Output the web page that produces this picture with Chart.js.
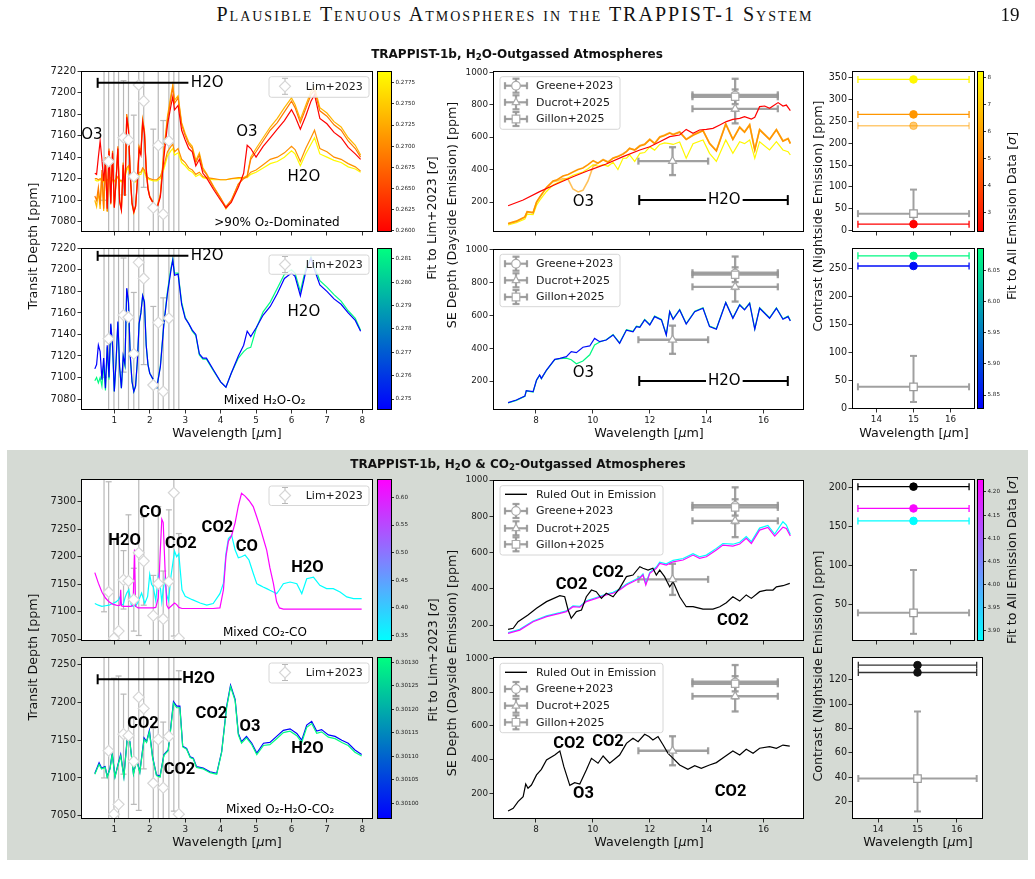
<!DOCTYPE html>
<html><head><meta charset="utf-8"><title>TRAPPIST-1b atmospheres</title>
<script src="https://cdn.jsdelivr.net/npm/chart.js@4.4.1/dist/chart.umd.min.js"></script>
<style>
html,body{margin:0;padding:0;background:#fff;}
#page{position:relative;width:1035px;height:879px;overflow:hidden;background:#fff;font-family:'DejaVu Sans',sans-serif;color:#111;}
#page canvas{position:absolute;}
.lb{position:absolute;white-space:nowrap;line-height:1;transform:translate(-50%,-50%);}
.lb.r{transform:translate(-50%,-50%) rotate(-90deg);}
.sb{font-size:72%;vertical-align:-0.28em;}
</style></head><body><div id="page"><div style="position:absolute;left:7px;top:450px;width:1021px;height:410px;background:#d5dad4;"></div></div>
<script>
// ===================== DATA =====================
const XT_T=[1,2,3,4,5,6,7,8];
const XT_E=[8,10,12,14,16];
const XT_N=[14,15,16];
const YT_T1=[7080,7100,7120,7140,7160,7180,7200,7220];
const YT_T2=[7050,7100,7150,7200,7250,7300];
const YT_T3=[7050,7100,7150,7200,7250];
const YT_E=[200,400,600,800,1000];
const YT_N1=[0,50,100,150,200,250,300,350];
const YT_N2=[0,50,100,150,200,250];
const YT_N3=[50,100,150,200];
const YT_N4=[20,40,60,80,100,120];

// Lim+2023 transit spectrum
const LIM_WL=[0.71,0.84,0.99,1.12,1.26,1.40,1.55,1.69,1.83,2.10,2.24,2.38,2.54,2.68,2.82];
const LIM_VAL=[7350,7136,7052,7065,7158,7156,7122,7207,7192,7093,7151,7087,7155,7316,7052];
const LIM_ERR=[250,200,180,170,53,120,57,150,80,73,140,87,130,260,190];

// dayside emission data
const GREENE_WL=[15], GREENE_VAL=[861], GREENE_ERR=[99], GREENE_XLO=[13.5], GREENE_XHI=[16.5];
const DUCROT_WL=[12.8,15], DUCROT_VAL=[452,775], DUCROT_ERR=[86,90], DUCROT_XLO=[11.6,13.5], DUCROT_XHI=[14.05,16.5];
const GILLON_WL=[15], GILLON_VAL=[849], GILLON_ERR=[45], GILLON_XLO=[13.5], GILLON_XHI=[16.5];
// nightside contrast data
const NIGHT_WL=[15], NIGHT_VAL=[39], NIGHT_LO=[27], NIGHT_HI=[55], NIGHT_XLO=[13.5], NIGHT_XHI=[16.5];

// transit models, O2-dominated (panel 1)
const W_T1=[0.45,0.5,0.55,0.6,0.65,0.7,0.75,0.8,0.85,0.9,
 0.95,1.0,1.05,1.1,1.15,1.2,1.25,1.3,1.35,1.4,
 1.45,1.5,1.55,1.6,1.65,1.7,1.75,1.8,1.85,1.9,
 1.95,2.0,2.1,2.2,2.3,2.4,2.5,2.6,2.65,2.7,
 2.8,2.9,3.0,3.1,3.2,3.3,3.4,3.5,3.6,3.8,
 4.0,4.15,4.3,4.5,4.65,4.75,4.85,5.0,5.2,5.4,
 5.6,5.8,6.0,6.1,6.25,6.4,6.55,6.65,6.8,7.0,
 7.2,7.4,7.6,7.8,7.95];
const P1_ORANGE=[7104,7100,7112,7096,7128,7092,7140,7090,7148,7098,
 7146,7094,7120,7150,7100,7092,7135,7105,7180,7168,
 7125,7098,7090,7095,7118,7150,7145,7175,7165,7130,
 7112,7104,7098,7093,7105,7145,7175,7195,7205,7190,
 7195,7170,7160,7152,7148,7135,7142,7128,7124,7112,
 7102,7094,7100,7115,7120,7122,7138,7145,7155,7165,
 7172,7182,7192,7186,7172,7185,7198,7202,7183,7178,
 7170,7165,7155,7148,7140];
const P1_RED=[7125,7124,7140,7155,7138,7118,7136,7092,7146,7097,
 7144,7093,7118,7148,7099,7091,7133,7104,7177,7165,
 7123,7097,7089,7094,7116,7147,7142,7172,7162,7128,
 7110,7103,7097,7092,7103,7140,7170,7188,7196,7184,
 7188,7165,7156,7148,7145,7132,7138,7125,7121,7110,
 7100,7093,7098,7112,7125,7151,7148,7140,7150,7158,
 7166,7174,7184,7178,7166,7178,7192,7198,7176,7171,
 7163,7158,7149,7143,7138];
const P1_LIGHT=[7100,7094,7108,7092,7124,7090,7136,7089,7145,7096,
 7143,7093,7118,7147,7098,7091,7132,7104,7178,7166,
 7122,7096,7088,7094,7117,7149,7144,7174,7164,7129,
 7111,7103,7097,7092,7106,7147,7178,7198,7207,7193,
 7197,7172,7162,7154,7150,7137,7144,7130,7125,7113,
 7102,7092,7099,7115,7121,7123,7140,7148,7158,7168,
 7176,7186,7195,7189,7175,7188,7201,7205,7186,7181,
 7173,7168,7158,7151,7142];
const P1_FLAT_O=[7120,7120,7119,7120,7119,7118,7120,7119,7120,7121,
 7119,7118,7120,7122,7119,7118,7120,7123,7130,7132,
 7125,7120,7118,7118,7120,7126,7126,7130,7128,7123,
 7121,7120,7119,7119,7122,7132,7145,7150,7152,7145,
 7148,7138,7135,7130,7128,7124,7126,7122,7121,7120,
 7119,7119,7120,7121,7121,7122,7126,7128,7133,7138,
 7140,7144,7150,7147,7136,7148,7158,7165,7148,7145,
 7140,7138,7134,7131,7127];
const P1_FLAT_Y=[7119,7118,7118,7119,7118,7117,7119,7118,7119,7120,
 7118,7117,7119,7121,7118,7117,7119,7121,7128,7130,
 7123,7119,7117,7117,7119,7124,7124,7128,7126,7121,
 7120,7119,7118,7118,7120,7129,7141,7146,7148,7142,
 7144,7135,7132,7128,7126,7122,7124,7121,7120,7119,
 7119,7119,7120,7120,7121,7121,7124,7126,7130,7134,
 7136,7140,7146,7143,7132,7143,7152,7158,7143,7140,
 7137,7135,7131,7129,7126];
const FIT_P1=[0.2600,0.2690,0.2735,0.2705,0.2785]; // red, orange, light, flat orange, flat yellow

// transit models, mixed H2O-O2 (panel 2)
const P2_BLUE=[7108,7112,7130,7124,7098,7118,7090,7130,7100,7150,
 7130,7087,7115,7152,7110,7090,7120,7112,7183,7170,
 7120,7096,7087,7092,7115,7150,7160,7176,7170,7130,
 7112,7104,7098,7091,7110,7150,7178,7200,7209,7195,
 7196,7168,7155,7150,7144,7140,7122,7118,7118,7107,
 7096,7091,7104,7120,7130,7143,7138,7146,7158,7166,
 7178,7192,7197,7194,7176,7198,7211,7200,7186,7180,
 7173,7168,7160,7153,7143];
const P2_GREEN=[7097,7100,7095,7100,7092,7112,7088,7128,7098,7149,
 7128,7087,7114,7151,7109,7090,7119,7111,7182,7169,
 7120,7096,7087,7092,7115,7150,7160,7176,7170,7130,
 7112,7104,7098,7091,7111,7151,7180,7202,7210,7197,
 7197,7170,7156,7150,7143,7139,7121,7117,7117,7106,
 7096,7091,7104,7118,7124,7127,7128,7145,7161,7170,
 7183,7196,7200,7197,7180,7201,7212,7203,7190,7184,
 7177,7171,7162,7155,7144];
const FIT_P2=[0.2745,0.2814]; // blue, green

// transit models, mixed CO2-CO (panel 7)
const W_T7=[0.45,0.55,0.65,0.75,0.85,0.95,1.05,1.12,1.16,1.18,
 1.2,1.25,1.3,1.35,1.41,1.48,1.53,1.57,1.6,1.67,
 1.77,1.86,1.94,2.0,2.05,2.1,2.17,2.24,2.29,2.34,
 2.38,2.43,2.48,2.53,2.6,2.7,2.76,2.82,2.91,3.0,
 3.2,3.42,3.61,3.79,3.98,4.08,4.15,4.22,4.31,4.41,
 4.5,4.59,4.69,4.8,4.92,5.02,5.11,5.2,5.3,5.39,
 5.49,5.58,5.66,5.77,5.96,6.15,6.29,6.43,6.62,6.8,
 6.99,7.18,7.37,7.56,7.75,7.98];
const P7_MAG=[7171,7152,7136,7125,7118,7114,7112,7111,7112,7140,
 7111,7110,7110,7110,7110,7110,7112,7213,7110,7107,
 7107,7107,7107,7107,7107,7107,7108,7125,7200,7268,
 7262,7180,7112,7106,7110,7116,7113,7108,7106,7106,
 7106,7106,7106,7106,7107,7140,7200,7228,7238,7262,
 7292,7315,7310,7302,7291,7272,7254,7234,7212,7180,
 7151,7118,7107,7105,7105,7105,7105,7105,7105,7105,
 7105,7105,7105,7105,7105,7105];
const P7_CYAN=[7115,7112,7110,7111,7112,7115,7118,7122,7127,7118,
 7113,7113,7125,7134,7140,7112,7110,7112,7110,7118,
 7134,7115,7128,7168,7150,7145,7120,7165,7150,7118,
 7140,7160,7130,7120,7165,7210,7200,7205,7140,7128,
 7122,7116,7112,7115,7133,7152,7205,7233,7239,7212,
 7198,7200,7203,7194,7170,7151,7148,7145,7142,7139,
 7136,7133,7140,7151,7154,7151,7133,7160,7163,7148,
 7142,7142,7136,7127,7124,7124];
const FIT_P7=[0.6300,0.3400]; // magenta, cyan

// transit models, mixed O2-H2O-CO2 (panel 8)
const W_T8=[0.45,0.57,0.64,0.74,0.80,0.88,0.94,1.02,1.11,1.18,
 1.27,1.37,1.44,1.54,1.63,1.72,1.84,1.91,1.99,2.08,
 2.19,2.29,2.40,2.52,2.59,2.67,2.76,2.85,2.93,3.04,
 3.14,3.23,3.32,3.51,3.70,3.89,4.03,4.17,4.28,4.41,
 4.50,4.59,4.73,4.88,5.02,5.21,5.39,5.58,5.77,5.96,
 6.15,6.29,6.43,6.57,6.71,6.85,7.04,7.23,7.42,7.60,
 7.79,7.98];
const P8_BLUE=[7106,7120,7113,7115,7102,7113,7133,7102,7119,7131,
 7102,7156,7148,7106,7124,7108,7153,7148,7163,7128,
 7104,7102,7131,7137,7166,7201,7195,7195,7142,7139,
 7128,7126,7115,7113,7108,7106,7135,7195,7223,7204,
 7159,7148,7155,7146,7133,7146,7147,7155,7163,7165,
 7159,7150,7170,7175,7162,7164,7157,7155,7150,7146,
 7137,7131];
const P8_GREEN=[7105,7118,7112,7114,7101,7112,7131,7101,7118,7129,
 7101,7154,7147,7105,7123,7107,7151,7147,7161,7127,
 7103,7101,7130,7136,7164,7199,7193,7193,7141,7138,
 7127,7125,7114,7112,7107,7105,7134,7193,7221,7202,
 7157,7146,7153,7144,7131,7143,7144,7152,7160,7162,
 7156,7147,7167,7172,7159,7161,7154,7152,7147,7143,
 7134,7129];
const FIT_P8=[0.30097,0.30131]; // blue, green

// emission models, O2-dominated (panel 3)
const W_E1R=[7.02,7.55,8.13,8.72,9.30,9.89,10.47,11.06,11.65,12.00,12.35,12.70,13.05,13.28,13.52,13.75,13.99,14.22,14.46,14.69,14.92,15.16,15.33,15.57,15.69,15.86,16.04,16.21,16.33,16.51,16.68,16.80,16.94];
const P3_RED=[177,212,264,311,356,397,434,480,521,541,572,603,613,648,624,644,648,654,675,696,710,716,726,712,722,788,792,778,792,813,792,798,764];
const W_E1=[7.02,7.31,7.61,7.69,7.90,8.02,8.13,8.37,8.60,8.72,
 8.95,9.13,9.30,9.48,9.65,9.83,10.01,10.18,10.36,10.53,
 10.71,10.88,11.06,11.18,11.29,11.47,11.65,11.82,12.00,12.17,
 12.35,12.52,12.70,12.82,13.05,13.28,13.52,13.87,14.10,14.34,
 14.67,14.92,15.16,15.33,15.51,15.69,15.86,16.21,16.45,16.68,
 16.86,16.94];
const P3_ORANGE=[68,82,108,140,135,200,230,290,330,335,
 360,370,385,400,410,430,455,440,460,445,
 470,480,495,510,530,520,545,555,585,560,
 600,610,625,615,630,585,612,640,560,515,
 680,585,660,630,675,520,645,585,645,575,
 590,560];
const P3_ORANGE2=[66,80,106,138,133,198,228,288,325,330,
 345,340,280,262,272,330,420,440,462,448,
 472,482,498,512,532,522,548,558,588,563,
 603,613,628,618,633,588,615,643,563,518,
 683,588,663,633,678,523,648,588,648,578,
 593,563];
const P3_YELLOW=[58,72,95,125,122,180,210,265,305,315,
 335,350,365,375,385,405,430,420,430,420,
 445,400,470,470,490,450,500,505,540,520,
 555,565,560,555,570,470,560,583,500,450,
 583,500,572,560,583,470,572,521,572,521,
 510,490];
const FIT_E1=[2.3,5.8,6.0,8.1]; // red, orange, orange2, yellow

// emission models, mixed H2O-O2 (panel 4)
const W_E2=[7.02,7.31,7.61,7.66,7.90,8.02,8.13,8.19,8.37,8.66,
 8.84,9.07,9.24,9.42,9.65,9.89,10.06,10.24,10.47,10.71,
 10.94,11.18,11.41,11.53,11.65,11.82,12.00,12.17,12.41,12.58,
 12.70,12.82,13.05,13.28,13.58,13.87,14.10,14.34,14.67,14.92,
 15.16,15.33,15.51,15.69,15.86,16.21,16.45,16.68,16.86,16.94];
const P4_BLUE=[68,84,108,141,135,206,237,216,267,332,
 338,349,379,373,406,414,460,440,450,481,
 430,511,501,532,528,573,542,593,573,481,
 623,577,634,548,623,644,532,516,678,583,
 664,634,674,516,644,583,644,577,593,566];
const P4_GREEN=[66,82,106,139,133,204,235,214,265,330,
 336,340,330,305,322,360,420,438,452,484,
 433,514,504,535,531,576,545,596,576,484,
 626,580,637,551,626,647,535,519,681,586,
 667,637,677,519,647,586,647,580,596,569];
const FIT_E2=[5.84,6.08]; // blue, green

// emission models, CO2-CO (panel 9)
const W_E3=[7.02,7.20,7.37,7.72,8.02,8.37,8.84,9.01,9.13,9.24,
 9.42,9.60,9.77,9.95,10.12,10.30,10.47,10.71,10.94,11.18,
 11.41,11.65,11.76,11.94,12.11,12.23,12.35,12.52,12.70,12.82,
 13.05,13.28,13.52,13.87,14.22,14.46,14.69,14.92,15.16,15.39,
 15.57,15.86,16.10,16.33,16.45,16.68,16.92];
const P9_BLACK=[176,182,218,255,292,329,362,356,283,237,
 274,283,356,393,384,347,375,356,402,467,
 476,522,513,503,513,476,503,467,411,439,
 356,301,301,288,288,301,323,356,332,366,
 347,384,393,393,411,417,430];
const W_E4=[7.02,7.43,7.90,8.37,8.84,9.07,9.30,9.54,9.77,10.12,
 10.47,10.71,10.94,11.18,11.41,11.65,11.76,11.86,12.00,12.23,
 12.35,12.58,12.82,13.17,13.52,13.75,13.99,14.34,14.57,14.92,
 15.16,15.39,15.57,15.86,16.15,16.39,16.68,16.80,16.94];
const P9_MAG=[154,172,218,246,264,274,301,298,329,347,
 366,375,393,421,439,458,476,421,485,513,
 540,531,549,559,586,568,577,614,641,636,
 647,678,650,724,739,691,740,733,691];
const P9_CYAN=[158,176,222,250,268,278,306,303,334,352,
 371,380,398,426,444,463,482,428,491,520,
 547,538,557,567,594,577,586,623,650,646,
 657,688,660,735,750,702,770,752,700];
const FIT_E3=[4.22,3.88]; // magenta, cyan

// emission model ruled out, O2-H2O-CO2 (panel 10)
const W_E5=[7.02,7.20,7.37,7.55,7.64,7.72,7.84,8.02,8.19,8.37,
 8.66,8.84,8.98,9.19,9.36,9.54,9.77,9.95,10.18,10.36,
 10.59,10.94,11.18,11.41,11.59,11.82,11.97,12.11,12.29,12.47,
 12.64,12.82,13.05,13.34,13.58,13.81,14.10,14.34,14.63,14.92,
 15.16,15.39,15.63,15.86,16.21,16.45,16.68,16.92];
const P10_BLACK=[95,111,151,180,255,230,249,309,342,398,
 427,451,358,247,263,255,338,407,378,421,
 378,427,496,526,506,550,536,516,536,486,
 437,407,368,342,364,348,368,382,417,451,
 427,461,437,467,477,467,486,480];

// nightside contrast of models
const NS5_VAL=[346,266,240,15], NS5_FIT=[8.1,5.8,6.0,2.3];
const NS6_VAL=[272,254], NS6_FIT=[6.08,5.84];
const NS11_VAL=[201,173,157], NS11_FIT=[null,4.22,3.88];
const NS12_VAL=[132,126];

// colorbar tick labels
const CBT1=[0.2600,0.2625,0.2650,0.2675,0.2700,0.2725,0.2750,0.2775];
const CBT2=[0.275,0.276,0.277,0.278,0.279,0.280,0.281];
const CBT5=[3,4,5,6,7,8];
const CBT6=[5.85,5.90,5.95,6.00,6.05];
const CBT7=[0.35,0.40,0.45,0.50,0.55,0.60];
const CBT8=[0.30100,0.30105,0.30110,0.30115,0.30120,0.30125,0.30130];
const CBT11=[3.90,3.95,4.00,4.05,4.10,4.15,4.20];

// ===================== HELPERS =====================
const page=document.getElementById('page');
Chart.defaults.font.family="'DejaVu Sans', sans-serif";
const CM={autumn:t=>[255,255*t,0],winter:t=>[0,255*t,255*(1-0.5*t)],cool:t=>[255*t,255*(1-t),255]};
const CB1={cm:'autumn',min:0.25988,max:0.27887};
const CB2={cm:'winter',min:0.27453,max:0.28146};
const CB5={cm:'autumn',min:2.27,max:8.26};
const CB6={cm:'winter',min:5.8276,max:6.0859};
const CB7={cm:'cool',min:0.3396,max:0.6335};
const CB8={cm:'winter',min:0.300967,max:0.301311};
const CB11={cm:'cool',min:3.878,max:4.228};
function cmc(cb,v,a){let t=(v-cb.min)/(cb.max-cb.min);t=Math.max(0,Math.min(1,t));const c=CM[cb.cm](t).map(Math.round);return 'rgba('+c[0]+','+c[1]+','+c[2]+','+(a==null?1:a)+')';}

function label(html,cx,cy,size,o){o=o||{};const d=document.createElement('div');d.className='lb'+(o.rot?' r':'');d.innerHTML=html;d.style.left=cx+'px';d.style.top=cy+'px';d.style.fontSize=size+'px';if(o.bold)d.style.fontWeight='bold';if(o.ff)d.style.fontFamily=o.ff;if(o.sc)d.style.fontVariant='small-caps';if(o.ls)d.style.letterSpacing=o.ls+'px';if(o.color)d.style.color=o.color;page.appendChild(d);}

function axis(pos,min,max,ticks,size,show,fs,dec,tl){
  return {type:'linear',position:pos,min:min,max:max,
    afterBuildTicks:s=>{s.ticks=ticks.map(v=>({value:v}));},
    afterFit:s=>{if(pos==='left'||pos==='right')s.width=size;else s.height=size;},
    grid:{drawOnChartArea:false,drawTicks:true,tickLength:tl||3.5,color:'#000',lineWidth:0.8},
    border:{display:false},
    ticks:{font:{size:fs,family:"'DejaVu Sans', sans-serif"},color:'#1a1a1a',padding:1.5,maxRotation:0,minRotation:0,autoSkip:false,
      callback:v=>show?(dec!=null?Number(v).toFixed(dec):String(v)):''}};
}
function seg(c,x1,y1,x2,y2){c.beginPath();c.moveTo(x1,y1);c.lineTo(x2,y2);c.stroke();}
function glyph(c,s,x,y,r){c.beginPath();
  if(s==='circle')c.arc(x,y,r,0,2*Math.PI);
  else if(s==='rect')c.rect(x-r,y-r,2*r,2*r);
  else if(s==='rectRot'){c.moveTo(x,y-r);c.lineTo(x+r,y);c.lineTo(x,y+r);c.lineTo(x-r,y);c.closePath();}
  else {c.moveTo(x,y-r);c.lineTo(x+r*0.87,y+r*0.55);c.lineTo(x-r*0.87,y+r*0.55);c.closePath();}
  c.fill();c.stroke();}
function rr(c,x,y,w,h,r){c.beginPath();c.moveTo(x+r,y);c.lineTo(x+w-r,y);c.quadraticCurveTo(x+w,y,x+w,y+r);c.lineTo(x+w,y+h-r);c.quadraticCurveTo(x+w,y+h,x+w-r,y+h);c.lineTo(x+r,y+h);c.quadraticCurveTo(x,y+h,x,y+h-r);c.lineTo(x,y+r);c.quadraticCurveTo(x,y,x+r,y);c.closePath();}
function drawErrs(c,X,Y,E){
  c.save();c.lineWidth=E.lw;
  E.x.forEach((xv,i)=>{
    c.strokeStyle=Array.isArray(E.c)?E.c[i]:E.c;
    const px=X.getPixelForValue(xv),py=Y.getPixelForValue(E.y[i]),k=E.cap;
    if(E.lo){const y1=Y.getPixelForValue(E.y[i]-E.lo[i]),y2=Y.getPixelForValue(E.y[i]+E.hi[i]);seg(c,px,y1,px,y2);seg(c,px-k,y1,px+k,y1);seg(c,px-k,y2,px+k,y2);}
    if(E.xlo){const x1=X.getPixelForValue(E.xlo[i]),x2=X.getPixelForValue(E.xhi[i]);seg(c,x1,py,x2,py);seg(c,x1,py-k,x1,py+k);seg(c,x2,py-k,x2,py+k);}
  });
  c.restore();
}
function drawTexts(c,X,Y,T){
  T.forEach(t=>{c.save();c.font=t.f;c.textBaseline='middle';c.textAlign=t.al||'center';
    const px=X.getPixelForValue(t.x),py=Y.getPixelForValue(t.y);
    if(t.bg){const w=c.measureText(t.s).width;c.fillStyle='#fff';c.fillRect(px-w/2-2,py-8,w+4,16);}
    c.fillStyle='#000';c.fillText(t.s,px,py);c.restore();});
}
function drawBars(c,X,Y,B){
  B.forEach(b=>{c.save();c.strokeStyle='#000';c.lineWidth=2;const x1=X.getPixelForValue(b.x1),x2=X.getPixelForValue(b.x2),y=Y.getPixelForValue(b.y);
    seg(c,x1,y,x2,y);if(b.cl)seg(c,x1,y-5,x1,y+5);if(b.cr)seg(c,x2,y-5,x2,y+5);c.restore();});
}
function drawLegend(c,a,L){
  const bx=a.left+L.x,by=a.top+L.y;
  c.save();c.fillStyle='rgba(255,255,255,0.85)';c.strokeStyle='#cccccc';c.lineWidth=0.8;rr(c,bx,by,L.w,L.h,2.5);c.fill();c.stroke();
  L.items.forEach(it=>{
    const cx=bx+it.mx,cy=a.top+it.cy;
    if(it.k==='line'){c.strokeStyle='#000';c.lineWidth=1.4;seg(c,cx-11,cy,cx+11,cy);}
    else if(it.k==='lim'){c.strokeStyle='#b8b8b8';c.lineWidth=1;seg(c,cx,cy-8,cx,cy+8);seg(c,cx-3,cy-8,cx+3,cy-8);seg(c,cx-3,cy+8,cx+3,cy+8);
      c.fillStyle='#fff';c.strokeStyle='#d6d6d6';c.lineWidth=1.2;glyph(c,'rectRot',cx,cy,5.5);}
    else {c.strokeStyle='rgba(150,150,150,0.9)';c.lineWidth=2.2;seg(c,cx-11,cy,cx+11,cy);seg(c,cx-11,cy-3.5,cx-11,cy+3.5);seg(c,cx+11,cy-3.5,cx+11,cy+3.5);
      seg(c,cx,cy-7,cx,cy+7);seg(c,cx-3.5,cy-7,cx+3.5,cy-7);seg(c,cx-3.5,cy+7,cx+3.5,cy+7);
      c.fillStyle='#fff';c.strokeStyle='#aaaaaa';c.lineWidth=1.2;glyph(c,it.s,cx,cy,it.s==='rect'?3.8:4.3);}
    c.fillStyle='#1a1a1a';c.font="11px 'DejaVu Sans'";c.textBaseline='middle';c.textAlign='left';c.fillText(it.t,bx+it.tx,cy+0.5);
  });
  c.restore();
}

function makePanel(p){
  const ML=48,MR=14,MT=10,MB=p.xlab?26:8;
  const W=p.w+ML+MR,H=p.h+MT+MB;
  const cv=document.createElement('canvas');cv.width=W;cv.height=H;
  cv.style.left=(p.l-ML)+'px';cv.style.top=(p.t-MT)+'px';cv.style.width=W+'px';cv.style.height=H+'px';
  page.appendChild(cv);
  const ds=[];
  (p.lines||[]).forEach((L,i)=>ds.push({data:L.x.map((x,j)=>({x:x,y:L.y[j]})),showLine:true,borderColor:L.c,borderWidth:L.w||1.2,pointRadius:0,pointHoverRadius:0,tension:0,fill:false,order:100-i}));
  (p.marks||[]).forEach((M,i)=>ds.push({data:M.x.map((x,j)=>({x:x,y:M.y[j]})),showLine:false,pointStyle:M.s,pointRadius:M.r,pointBackgroundColor:M.f,pointBorderColor:M.e,pointBorderWidth:M.bw||1,order:-1-i}));
  const ex={id:'ex',
    beforeDraw(ch){const a=ch.chartArea,c=ch.ctx;c.save();c.fillStyle='#fff';c.fillRect(a.left,a.top,a.right-a.left,a.bottom-a.top);c.restore();},
    beforeDatasetsDraw(ch){const a=ch.chartArea,c=ch.ctx;c.save();c.beginPath();c.rect(a.left,a.top,a.right-a.left,a.bottom-a.top);c.clip();(p.errs||[]).forEach(E=>drawErrs(c,ch.scales.x,ch.scales.y,E));c.restore();},
    afterDatasetsDraw(ch){const c=ch.ctx;drawBars(c,ch.scales.x,ch.scales.y,p.bars||[]);drawTexts(c,ch.scales.x,ch.scales.y,p.texts||[]);},
    afterDraw(ch){const a=ch.chartArea,c=ch.ctx;if(p.leg)drawLegend(c,a,p.leg);c.save();c.strokeStyle='#000';c.lineWidth=1;c.strokeRect(a.left+0.5,a.top+0.5,a.right-a.left-1,a.bottom-a.top-1);c.restore();}
  };
  new Chart(cv,{type:'scatter',data:{datasets:ds},options:{responsive:false,animation:false,devicePixelRatio:1,events:[],
    layout:{padding:{left:0,right:MR,top:MT,bottom:0}},
    plugins:{legend:{display:false},tooltip:{enabled:false}},
    scales:{x:axis('bottom',p.x[0],p.x[1],p.x[2],MB,!!p.xlab,p.xfs||8.8),
            y:axis('left',p.y[0],p.y[1],p.y[2],ML,true,p.yfs||10)}},
    plugins:[ex]});
}
function makeCB(cb,l,t,w,h,ticks,dec){
  const MR=36,MT=8,MB=8,W=w+MR,H=h+MT+MB;
  const cv=document.createElement('canvas');cv.width=W;cv.height=H;
  cv.style.left=l+'px';cv.style.top=(t-MT)+'px';cv.style.width=W+'px';cv.style.height=H+'px';
  page.appendChild(cv);
  const pl={id:'cb',afterDraw(ch){const a=ch.chartArea,c=ch.ctx,Y=ch.scales.y;
    const g=c.createLinearGradient(0,Y.getPixelForValue(cb.min),0,Y.getPixelForValue(cb.max));
    for(let i=0;i<=10;i++){const col=CM[cb.cm](i/10).map(Math.round);g.addColorStop(i/10,'rgb('+col.join(',')+')');}
    c.save();c.fillStyle=g;c.fillRect(a.left,a.top,a.right-a.left,a.bottom-a.top);c.strokeStyle='#000';c.lineWidth=1;c.strokeRect(a.left+0.5,a.top+0.5,a.right-a.left-1,a.bottom-a.top-1);c.restore();}};
  new Chart(cv,{type:'scatter',data:{datasets:[]},options:{responsive:false,animation:false,devicePixelRatio:1,events:[],
    layout:{padding:{left:0,right:0,top:MT,bottom:MB}},
    plugins:{legend:{display:false},tooltip:{enabled:false}},
    scales:{x:{display:false,min:0,max:1},y:axis('right',cb.min,cb.max,ticks,MR,true,5.6,dec,2)}},
    plugins:[pl]});
}

// ===================== SHARED PIECES =====================
const FT="15px 'DejaVu Sans'", FF="12px 'DejaVu Sans'", FB="bold 16.5px Roboto";
const limMarks={x:LIM_WL,y:LIM_VAL,s:'rectRot',r:5.5,f:'#fff',e:'#d6d6d6',bw:1.2};
const limErr={x:LIM_WL,y:LIM_VAL,lo:LIM_ERR,hi:LIM_ERR,c:'#b8b8b8',lw:1.2,cap:3};
const legLim=(y,h,cy)=>({x:188,y:y,w:100,h:h,items:[{k:'lim',t:'Lim+2023',cy:cy,mx:16,tx:36.7}]});
const emMarks=[
  {x:GREENE_WL,y:GREENE_VAL,s:'circle',r:3.6,f:'#fff',e:'#a8a8a8',bw:1.2},
  {x:DUCROT_WL,y:DUCROT_VAL,s:'triangle',r:4.6,f:'#fff',e:'#a8a8a8',bw:1.2},
  {x:GILLON_WL,y:GILLON_VAL,s:'rect',r:5.2,f:'#fff',e:'#a8a8a8',bw:1.2}];
const EC='rgba(150,150,150,0.9)';
const emErrs=[
  {x:GREENE_WL,y:GREENE_VAL,lo:GREENE_ERR,hi:GREENE_ERR,xlo:GREENE_XLO,xhi:GREENE_XHI,c:EC,lw:2.3,cap:3.5},
  {x:DUCROT_WL,y:DUCROT_VAL,lo:DUCROT_ERR,hi:DUCROT_ERR,xlo:DUCROT_XLO,xhi:DUCROT_XHI,c:EC,lw:2.3,cap:3.5},
  {x:GILLON_WL,y:GILLON_VAL,lo:GILLON_ERR,hi:GILLON_ERR,xlo:GILLON_XLO,xhi:GILLON_XHI,c:EC,lw:2.3,cap:3.5}];
const emItems=(c1,c2,c3)=>[{k:'err',s:'circle',t:'Greene+2023',cy:c1,mx:16,tx:36},{k:'err',s:'triangle',t:'Ducrot+2025',cy:c2,mx:16,tx:36},{k:'err',s:'rect',t:'Gillon+2025',cy:c3,mx:16,tx:36}];
const nightMark={x:NIGHT_WL,y:NIGHT_VAL,s:'rect',r:5.3,f:'#fff',e:'#9a9a9a',bw:1.2};
const nightErr={x:NIGHT_WL,y:NIGHT_VAL,lo:NIGHT_LO,hi:NIGHT_HI,xlo:NIGHT_XLO,xhi:NIGHT_XHI,c:'#a0a0a0',lw:2,cap:3.5};
const fill=(arr,v)=>arr.map(()=>v);
function dots(vals,cols){return {x:fill(vals,NIGHT_WL[0]),y:vals,s:'circle',r:3.8,f:cols,e:cols,bw:1};}
function dotErr(vals,cols){return {x:fill(vals,NIGHT_WL[0]),y:vals,xlo:fill(vals,NIGHT_XLO[0]),xhi:fill(vals,NIGHT_XHI[0]),c:cols,lw:1.3,cap:3.5};}

const XR_T=[0.06,8.30], XR_E=[6.49,17.42], XR_N=[13.34,16.66];

// ===================== TOP SECTION =====================
makePanel({l:81,t:71,w:292,h:161,x:[...XR_T,XT_T],y:[7070.5,7220,YT_T1],yfs:10,
  lines:[{x:W_T1,y:P1_FLAT_Y,c:cmc(CB1,FIT_P1[4])},{x:W_T1,y:P1_FLAT_O,c:cmc(CB1,FIT_P1[3])},
         {x:W_T1,y:P1_LIGHT,c:cmc(CB1,FIT_P1[2])},{x:W_T1,y:P1_ORANGE,c:cmc(CB1,FIT_P1[1])},{x:W_T1,y:P1_RED,c:cmc(CB1,FIT_P1[0])}],
  marks:[limMarks],errs:[limErr],bars:[{x1:0.53,x2:3.09,y:7209,cl:true}],
  texts:[{x:3.16,y:7209,s:'H2O',f:FT,al:'left'},{x:0.37,y:7160.6,s:'O3',f:FT},{x:4.74,y:7163.6,s:'O3',f:FT},{x:6.35,y:7121.8,s:'H2O',f:FT},{x:5.59,y:7079,s:'>90% O₂-Dominated',f:FF}],
  leg:legLim(5.7,20.6,15.3)});
makePanel({l:81,t:248,w:292,h:162,x:[...XR_T,XT_T],y:[7069.8,7220.3,YT_T1],yfs:10,xlab:true,
  lines:[{x:W_T1,y:P2_GREEN,c:cmc(CB2,FIT_P2[1])},{x:W_T1,y:P2_BLUE,c:cmc(CB2,FIT_P2[0])}],
  marks:[limMarks],errs:[limErr],bars:[{x1:0.53,x2:3.09,y:7213,cl:true}],
  texts:[{x:3.16,y:7213,s:'H2O',f:FT,al:'left'},{x:6.35,y:7161,s:'H2O',f:FT},{x:5.24,y:7078.4,s:'Mixed H₂O-O₂',f:FF}],
  leg:legLim(7,19.3,16.5)});
makePanel({l:493,t:71,w:311,h:161,x:[...XR_E,XT_E],y:[15,1008,YT_E],yfs:8.8,
  lines:[{x:W_E1,y:P3_YELLOW,c:cmc(CB5,FIT_E1[3])},{x:W_E1,y:P3_ORANGE2,c:cmc(CB5,FIT_E1[2],0.65),w:1.6},
         {x:W_E1,y:P3_ORANGE,c:cmc(CB5,FIT_E1[1]),w:1.6},{x:W_E1R,y:P3_RED,c:cmc(CB5,FIT_E1[0])}],
  marks:emMarks,errs:emErrs,bars:[{x1:11.63,x2:16.85,y:212,cl:true,cr:true}],
  texts:[{x:9.67,y:198,s:'O3',f:FT},{x:14.62,y:212,s:'H2O',f:FT,bg:true}],
  leg:{x:7,y:5.7,w:120,h:52.6,items:emItems(14.7,31.3,48)}});
makePanel({l:493,t:249,w:311,h:161,x:[...XR_E,XT_E],y:[23,1006,YT_E],yfs:8.8,xlab:true,
  lines:[{x:W_E2,y:P4_GREEN,c:cmc(CB6,FIT_E2[1])},{x:W_E2,y:P4_BLUE,c:cmc(CB6,FIT_E2[0])}],
  marks:emMarks,errs:emErrs,bars:[{x1:11.63,x2:16.85,y:200,cl:true,cr:true}],
  texts:[{x:9.67,y:247,s:'O3',f:FT},{x:14.62,y:200,s:'H2O',f:FT,bg:true}],
  leg:{x:7,y:5.3,w:120,h:52.4,items:emItems(14.7,31.3,48)}});
const C5=NS5_FIT.map((f,i)=>cmc(CB5,f,i===2?0.55:1));
makePanel({l:852,t:71,w:123,h:161,x:[...XR_N,XT_N],y:[-3,365.3,YT_N1],yfs:9.6,
  marks:[nightMark,dots(NS5_VAL,C5)],errs:[nightErr,dotErr(NS5_VAL,C5)]});
const C6=NS6_FIT.map(f=>cmc(CB6,f));
makePanel({l:852,t:248,w:123,h:161,x:[...XR_N,XT_N],y:[-0.5,286,YT_N2],yfs:9.6,xlab:true,
  marks:[nightMark,dots(NS6_VAL,C6)],errs:[nightErr,dotErr(NS6_VAL,C6)]});
makeCB(CB1,377,71,15,161,CBT1,4);
makeCB(CB2,377,248,15,162,CBT2,3);
makeCB(CB5,977,71,7,161,CBT5,0);
makeCB(CB6,977,248,7,161,CBT6,2);

// ===================== BOTTOM SECTION =====================
makePanel({l:81,t:479,w:292,h:162,x:[...XR_T,XT_T],y:[7047,7341,YT_T2],yfs:10,
  lines:[{x:W_T7,y:P7_CYAN,c:cmc(CB7,FIT_P7[1])},{x:W_T7,y:P7_MAG,c:cmc(CB7,FIT_P7[0])}],
  marks:[limMarks],errs:[limErr],
  texts:[{x:1.29,y:7229,s:'H2O',f:FB},{x:2.02,y:7280,s:'CO',f:FB},{x:2.88,y:7224,s:'CO2',f:FB},{x:3.91,y:7253,s:'CO2',f:FB},{x:4.74,y:7218,s:'CO',f:FB},{x:6.45,y:7180,s:'H2O',f:FB},{x:5.25,y:7062,s:'Mixed CO₂-CO',f:FF}],
  leg:legLim(7,19.5,16.5)});
makePanel({l:81,t:657,w:292,h:162,x:[...XR_T,XT_T],y:[7045.6,7260.2,YT_T3],yfs:10,xlab:true,
  lines:[{x:W_T8,y:P8_BLUE,c:cmc(CB8,FIT_P8[0])},{x:W_T8,y:P8_GREEN,c:cmc(CB8,FIT_P8[1])}],
  marks:[limMarks],errs:[limErr],bars:[{x1:0.53,x2:2.90,y:7230.7,cl:true}],
  texts:[{x:2.92,y:7230.7,s:'H2O',f:FB,al:'left'},{x:1.81,y:7171,s:'CO2',f:FB},{x:2.84,y:7110.5,s:'CO2',f:FB},{x:3.74,y:7184.7,s:'CO2',f:FB},{x:4.83,y:7167,s:'O3',f:FB},{x:6.45,y:7138.3,s:'H2O',f:FB},{x:5.68,y:7057.5,s:'Mixed O₂-H₂O-CO₂',f:FF}],
  leg:legLim(6,20,15.5)});
makePanel({l:493,t:480,w:311,h:161,x:[...XR_E,XT_E],y:[111.7,1000.5,YT_E],yfs:8.8,
  lines:[{x:W_E4,y:P9_CYAN,c:cmc(CB11,FIT_E3[1])},{x:W_E4,y:P9_MAG,c:cmc(CB11,FIT_E3[0])},{x:W_E3,y:P9_BLACK,c:'#000'}],
  marks:emMarks,errs:emErrs,
  texts:[{x:9.25,y:420.7,s:'CO2',f:FB},{x:10.53,y:488.5,s:'CO2',f:FB},{x:14.92,y:223.7,s:'CO2',f:FB}],
  leg:{x:7,y:5.7,w:163,h:69.3,items:[{k:'line',t:'Ruled Out in Emission',cy:14.3,mx:16,tx:36}].concat(emItems(31,48.3,64.3))}});
makePanel({l:493,t:657,w:311,h:162,x:[...XR_E,XT_E],y:[47.7,1007.7,YT_E],yfs:8.8,xlab:true,
  lines:[{x:W_E5,y:P10_BLACK,c:'#000'}],
  marks:emMarks,errs:emErrs,
  texts:[{x:9.16,y:490,s:'CO2',f:FB},{x:10.53,y:505.8,s:'CO2',f:FB},{x:9.67,y:194,s:'O3',f:FB},{x:14.84,y:205.9,s:'CO2',f:FB}],
  leg:{x:7,y:6.3,w:163,h:69.4,items:[{k:'line',t:'Ruled Out in Emission',cy:15.3,mx:16,tx:36}].concat(emItems(32,48.7,65.3))}});
const C11=NS11_FIT.map(f=>f==null?'#000':cmc(CB11,f));
makePanel({l:852,t:479,w:123,h:162,x:[...XR_N,XT_N],y:[2.8,210.8,YT_N3],yfs:9.6,
  marks:[nightMark,dots(NS11_VAL,C11)],errs:[nightErr,dotErr(NS11_VAL,C11)]});
const C12=['#111','#111'];
makePanel({l:852,t:657,w:131,h:162,x:[...XR_N,XT_N],y:[5.8,138.7,YT_N4],yfs:9.6,xlab:true,
  marks:[nightMark,dots(NS12_VAL,C12)],errs:[nightErr,dotErr(NS12_VAL,['#333','#333'])]});
makeCB(CB7,377,479,15,162,CBT7,2);
makeCB(CB8,377,657,15,162,CBT8,5);
makeCB(CB11,977,479,7,162,CBT11,2);

// ===================== TEXT LABELS =====================
const SERIF="'Liberation Serif', 'DejaVu Serif', serif";
label('Plausible Tenuous Atmospheres in the TRAPPIST-1 System',515,14,20,{ff:SERIF,sc:true,ls:2});
label('19',1010,14,19,{ff:SERIF});
label('TRAPPIST-1b, H<span class="sb">2</span>O-Outgassed Atmospheres',517,55,12,{bold:true});
label('TRAPPIST-1b, H<span class="sb">2</span>O &amp; CO<span class="sb">2</span>-Outgassed Atmospheres',518,465,12,{bold:true});
const WL='Wavelength [<i>μ</i>m]';
[[227,433],[649,433],[914,433],[227,842],[649,842],[918,842]].forEach(q=>label(WL,q[0],q[1],12.7));
label('Transit Depth [ppm]',33,246,12.7,{rot:true});
label('Transit Depth [ppm]',33,657,12.7,{rot:true});
label('Fit to Lim+2023 [<i>σ</i>]',432,218,12.7,{rot:true});
label('Fit to Lim+2023 [<i>σ</i>]',433,660,12.7,{rot:true});
label('SE Depth (Dayside Emission) [ppm]',452,215,12.7,{rot:true});
label('SE Depth (Dayside Emission) [ppm]',452,663,12.7,{rot:true});
label('Contrast (Nightside Emission) [ppm]',818,216,12.7,{rot:true});
label('Contrast (Nightside Emission) [ppm]',818,666,12.7,{rot:true});
label('Fit to All Emission Data [<i>σ</i>]',1012,216,12.7,{rot:true});
label('Fit to All Emission Data [<i>σ</i>]',1012,560,12.7,{rot:true});
</script></body></html>
